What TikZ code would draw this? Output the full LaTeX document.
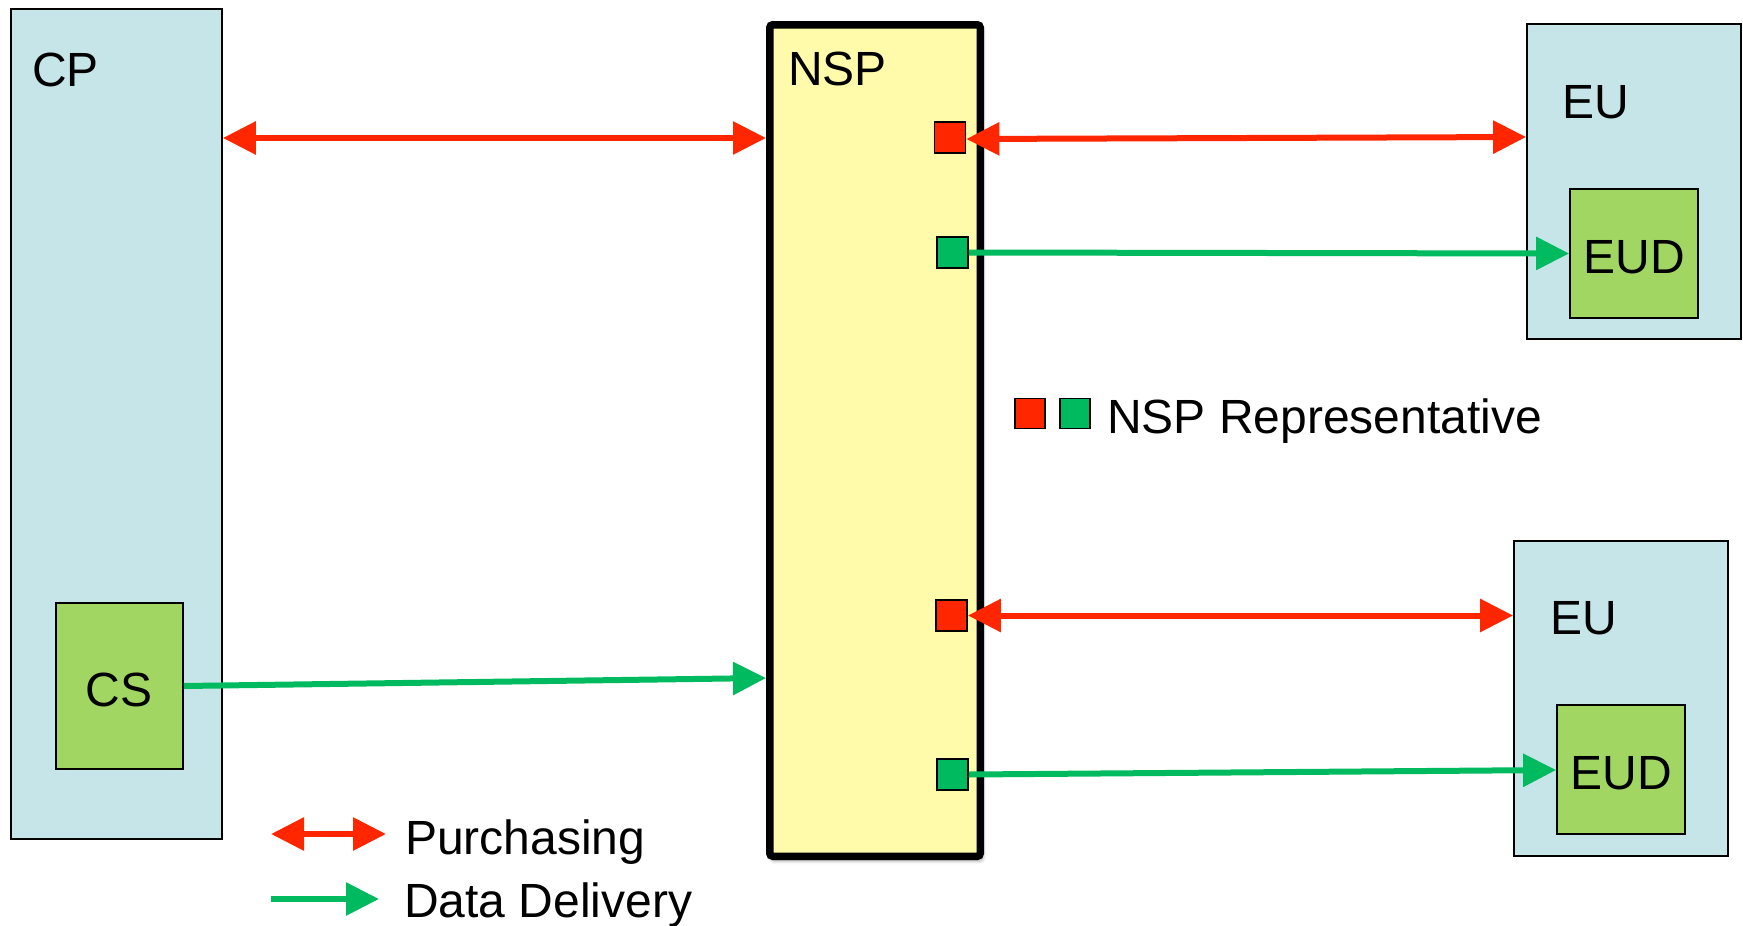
\documentclass[tikz,border=0pt]{standalone}
\usepackage{fontspec}
\setmainfont{Liberation Sans}
\usetikzlibrary{arrows.meta,shadows.blur}

\definecolor{boxblue}{RGB}{197,229,232}
\definecolor{boxgreen}{RGB}{162,214,98}
\definecolor{nspyellow}{RGB}{255,251,170}
\definecolor{buyred}{RGB}{255,38,0}
\definecolor{datagreen}{RGB}{0,186,96}

\tikzset{
  party/.style={draw=black, line width=1.8pt, fill=boxblue, inner sep=0pt},
  device/.style={draw=black, line width=1.8pt, fill=boxgreen, inner sep=0pt},
  provider/.style={draw=black, line width=7.5pt, fill=nspyellow, inner sep=0pt,
    rounded corners=3pt,
    blur shadow={shadow xshift=2pt, shadow yshift=-4pt, shadow blur radius=4pt,
                 shadow opacity=45}},
  rep/.style={draw=black, line width=1.8pt, inner sep=0pt,
    minimum width=31pt, minimum height=31pt},
  label/.style={inner sep=0pt, anchor=base west, font=\fontsize{48}{58}\selectfont},
  buy/.style={draw=buyred, line width=6pt,
    {Triangle[length=33pt,width=32pt]}-{Triangle[length=33pt,width=32pt]}},
  deliver/.style={draw=datagreen, line width=6pt,
    -{Triangle[length=33pt,width=32pt]}},
}

\begin{document}
\begin{tikzpicture}[x=1pt, y=-1pt]
\useasboundingbox (0,0) rectangle (1743,926);

% content provider with its content server
\node[party, minimum width=211pt, minimum height=830pt] (cp) at (116.5,424) {};
\node[device, minimum width=127pt, minimum height=166pt] (cs) at (119.5,686) {};
\node[label] (cpl) at (32,86) {CP};
\node[label, anchor=base] (csl) at (119,706) {CS};

% network service provider
\node[provider, minimum width=210.5pt, minimum height=831.5pt] (nsp) at (875,440.5) {};
\node[label] (nspl) at (788,85) {NSP};

% representatives inside the provider
\node[rep, fill=buyred] (r1) at (950,137.5) {};
\node[rep, fill=datagreen] (g1) at (952.5,252.5) {};
\node[rep, fill=buyred] (r2) at (951.5,615.5) {};
\node[rep, fill=datagreen] (g2) at (952.5,774.5) {};

% end users and their devices
\node[party, minimum width=214pt, minimum height=315pt] (eu1) at (1634,181.5) {};
\node[device, minimum width=128pt, minimum height=129pt] (eud1) at (1634,253.5) {};
\node[label] (eu1l) at (1562,118) {EU};
\node[label, anchor=base] (eud1l) at (1634,273) {EUD};

\node[party, minimum width=214pt, minimum height=315pt] (eu2) at (1621,698.5) {};
\node[device, minimum width=128pt, minimum height=129pt] (eud2) at (1621,769.5) {};
\node[label] (eu2l) at (1550,634) {EU};
\node[label, anchor=base] (eud2l) at (1621,789) {EUD};

% connections
\draw[buy] (cp.east |- 0,138) -- (nsp.west |- 0,138);
\draw[deliver] (cs.east) -- ([yshift=8pt]nsp.west |- cs.east);
\draw[buy] ([yshift=-1.5pt]r1.east) -- ([yshift=0.5pt]eu1.west |- r1.east);
\draw[deliver] (g1.east) -- (eud1.west);
\draw[buy] (r2.east) -- (eu2.west |- r2.east);
\draw[deliver] (g2.east) -- ([yshift=4.5pt]eud2.west |- g2.east);

% legend
\node[rep, fill=buyred, minimum width=30pt, minimum height=30pt] (kr) at (1030,413.5) {};
\node[rep, fill=datagreen, minimum width=30pt, minimum height=30pt] (kg) at (1075,413.5) {};
\node[label] (krl) at (1107,433) {NSP Representative};

\coordinate (pa) at (271,834);
\coordinate (pb) at (386,834);
\draw[buy] (pa) -- (pb);
\node[label] (pl) at (405,854) {Purchasing};

\coordinate (da) at (271,899);
\coordinate (db) at (379,899);
\draw[deliver] (da) -- (db);
\node[label] (dl) at (404,917) {Data Delivery};
\end{tikzpicture}
\end{document}
